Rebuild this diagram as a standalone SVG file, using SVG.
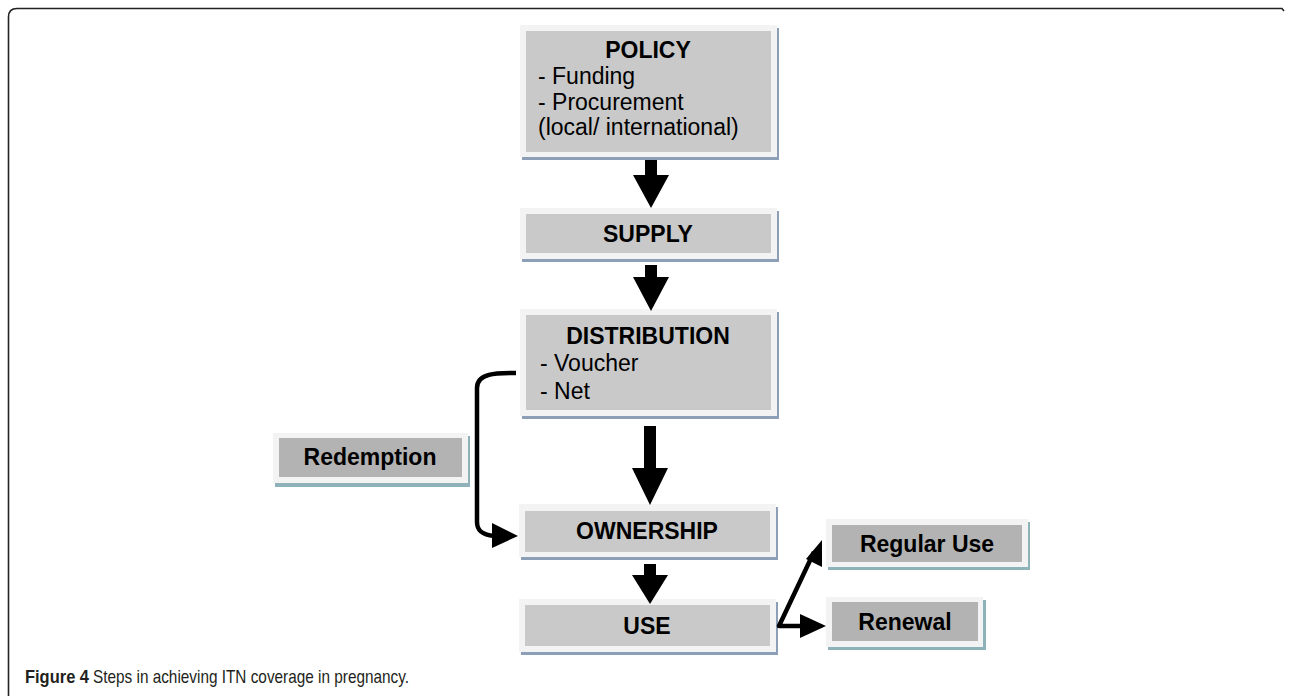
<svg xmlns="http://www.w3.org/2000/svg" width="1290" height="696" viewBox="0 0 1290 696">
<style>
.shadowB{fill:#8c9fb6}
.shadowT{fill:#8fb2b8}
.outer{fill:#f3f3f3}
.gray{fill:#c9c9c9}
.dgray{fill:#b3b3b3}
.t{font-family:"Liberation Sans",Arial,sans-serif;font-size:23px;fill:#000}
.b{font-weight:bold}
.arrow{fill:#000}
.line{fill:none;stroke:#000;stroke-width:4.5;stroke-linejoin:round}
.cap{font-family:"Liberation Sans Narrow","Liberation Sans",Arial,sans-serif;font-size:19px;fill:#231f20}
</style>
<rect width="1290" height="696" fill="#fff"/>
<path d="M8.5,696 L8.5,17 Q8.5,8.5 17,8.5 L1282,8.5 L1284,11" fill="none" stroke="#222" stroke-width="1.6"/>

<g id="policy">
<rect class="shadowB" x="522" y="28" width="257" height="132"/>
<rect class="outer" x="520" y="25" width="257" height="132"/>
<rect class="gray" x="526" y="31" width="245" height="121"/>
<text class="t b" x="648" y="58" text-anchor="middle">POLICY</text>
<text class="t" x="538" y="84">- Funding</text>
<text class="t" x="538" y="110">- Procurement</text>
<text class="t" x="538" y="135">(local/ international)</text>
</g>

<g id="supply">
<rect class="shadowB" x="522" y="211" width="257" height="51"/>
<rect class="outer" x="520" y="208" width="257" height="51"/>
<rect class="gray" x="526" y="214" width="245" height="39"/>
<text class="t b" x="648" y="242" text-anchor="middle">SUPPLY</text>
</g>

<g id="distribution">
<rect class="shadowB" x="522" y="312" width="257" height="107"/>
<rect class="outer" x="520" y="309" width="257" height="107"/>
<rect class="gray" x="526" y="315" width="245" height="95"/>
<text class="t b" x="648" y="344" text-anchor="middle">DISTRIBUTION</text>
<text class="t" x="540" y="371">- Voucher</text>
<text class="t" x="540" y="399">- Net</text>
</g>

<g id="ownership">
<rect class="shadowB" x="521" y="507" width="257" height="53"/>
<rect class="outer" x="519" y="504" width="257" height="53"/>
<rect class="gray" x="525" y="511" width="245" height="41"/>
<text class="t b" x="647" y="539" text-anchor="middle">OWNERSHIP</text>
</g>

<g id="use">
<rect class="shadowB" x="521" y="602" width="257" height="53"/>
<rect class="outer" x="519" y="599" width="257" height="53"/>
<rect class="gray" x="525" y="605" width="245" height="41"/>
<text class="t b" x="647" y="634" text-anchor="middle">USE</text>
</g>

<g id="redemption">
<rect class="shadowT" x="275" y="436" width="195" height="51"/>
<rect class="outer" x="273" y="433" width="195" height="50"/>
<rect class="dgray" x="279" y="438" width="183" height="39"/>
<text class="t b" x="370" y="465" text-anchor="middle">Redemption</text>
</g>

<g id="regular-use">
<rect class="shadowT" x="828" y="522" width="202" height="48"/>
<rect class="outer" x="826" y="519" width="202" height="48"/>
<rect class="dgray" x="832" y="525" width="190" height="37"/>
<text class="t b" x="927" y="552" text-anchor="middle">Regular Use</text>
</g>

<g id="renewal">
<rect class="shadowT" x="828" y="600" width="158" height="50"/>
<rect class="outer" x="826" y="597" width="157" height="50"/>
<rect class="dgray" x="832" y="602" width="146" height="39"/>
<text class="t b" x="905" y="630" text-anchor="middle">Renewal</text>
</g>

<g id="connectors">
<polygon class="arrow" points="645,160 657,160 657,175 669,175 651,208 633,175 645,175"/>
<polygon class="arrow" points="645,265 657,265 657,277 669,277 651,311 633,277 645,277"/>
<polygon class="arrow" points="644,426 656,426 656,468 668,468 650,505 632,468 644,468"/>
<polygon class="arrow" points="644,564 656,564 656,575 668,575 650,604 632,575 644,575"/>
<path class="line" d="M516,373 C496,373 477,373 477,388 L477,522 C477,532 484,535 494,536"/>
<polygon class="arrow" points="492,523 518,536 492,548"/>
<path class="line" d="M803,626 L779,626 L814,552"/>
<polygon class="arrow" points="822,540 822,567 806,559"/>
<polygon class="arrow" points="800,614 826,626 800,638"/>
</g>

<g id="caption">
<text class="cap" x="25" y="683" font-weight="bold" textLength="64" lengthAdjust="spacingAndGlyphs">Figure 4</text>
<text class="cap" x="93" y="683" textLength="316" lengthAdjust="spacingAndGlyphs">Steps in achieving ITN coverage in pregnancy.</text>
</g>
</svg>
